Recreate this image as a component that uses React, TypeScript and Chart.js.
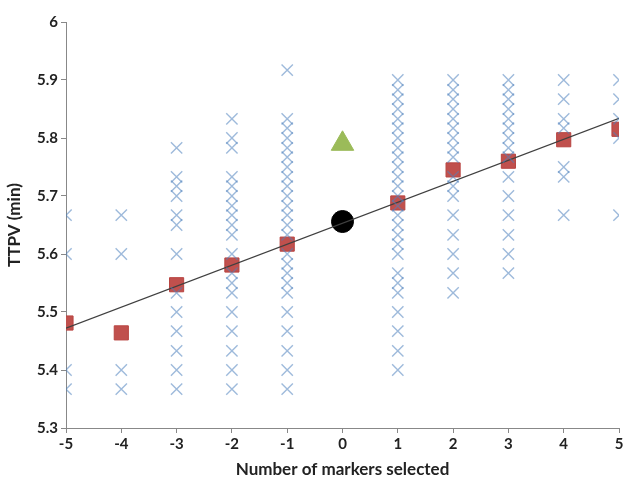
import React, { useEffect, useRef } from "react";
import { Chart, registerables } from "chart.js";
Chart.register(...registerables);

// Individual observations (TTPV, min) for each number of markers selected
const xGroups = [-5, -4, -3, -2, -1, 1, 2, 3, 4, 5];
const obsM5 = [5.667, 5.6, 5.4, 5.367];
const obsM4 = [5.667, 5.6, 5.4, 5.367];
const obsM3 = [5.783, 5.733, 5.717, 5.7, 5.667, 5.65, 5.6, 5.533, 5.5, 5.467, 5.433, 5.4, 5.367];
const obsM2 = [5.833, 5.8, 5.783, 5.733, 5.717, 5.7, 5.683, 5.667, 5.65, 5.633, 5.6, 5.567, 5.55, 5.533, 5.5, 5.467, 5.433, 5.4, 5.367];
const obsM1 = [5.917, 5.833, 5.817, 5.8, 5.783, 5.767, 5.75, 5.733, 5.717, 5.7, 5.683, 5.667, 5.65, 5.633, 5.6, 5.583, 5.567, 5.55, 5.533, 5.5, 5.467, 5.433, 5.4, 5.367];
const obsP1 = [5.9, 5.883, 5.867, 5.85, 5.833, 5.817, 5.8, 5.783, 5.767, 5.75, 5.733, 5.717, 5.7, 5.683, 5.667, 5.65, 5.633, 5.617, 5.6, 5.567, 5.55, 5.533, 5.5, 5.467, 5.433, 5.4];
const obsP2 = [5.9, 5.883, 5.867, 5.85, 5.833, 5.817, 5.8, 5.783, 5.767, 5.733, 5.717, 5.7, 5.667, 5.633, 5.6, 5.567, 5.533];
const obsP3 = [5.9, 5.883, 5.867, 5.85, 5.833, 5.817, 5.8, 5.783, 5.767, 5.733, 5.7, 5.667, 5.633, 5.6, 5.567];
const obsP4 = [5.9, 5.867, 5.833, 5.817, 5.75, 5.733, 5.667];
const obsP5 = [5.9, 5.867, 5.833, 5.8, 5.667];
const obsGroups = [obsM5, obsM4, obsM3, obsM2, obsM1, obsP1, obsP2, obsP3, obsP4, obsP5];

// Group means (red squares)
const meanX = [-5, -4, -3, -2, -1, 1, 2, 3, 4, 5];
const meanY = [5.481, 5.464, 5.547, 5.581, 5.617, 5.688, 5.745, 5.76, 5.797, 5.815];

// Linear trend line end points
const trendX = [-5, 5];
const trendY = [5.472, 5.834];

// Reference points
const circleX = [0];
const circleY = [5.656];
const triangleX = [0];
const triangleY = [5.79];

const xTicks = { min: -5, max: 5, step: 1 };
const yTicks = { min: 5.3, max: 6, step: 0.1 };

export default function App() {
  const ref = useRef<HTMLCanvasElement | null>(null);
  useEffect(() => {
    if (!ref.current) return;
    const obs: { x: number; y: number }[] = [];
    xGroups.forEach((gx, i) => obsGroups[i].forEach((v) => obs.push({ x: gx, y: v })));
    const font = "Lato, 'DejaVu Sans', sans-serif";
    const chart = new Chart(ref.current, {
      type: "scatter",
      data: {
        datasets: [
          {
            data: obs,
            pointStyle: "crossRot",
            pointRadius: 8,
            borderColor: "rgba(79,129,189,0.55)",
            backgroundColor: "rgba(79,129,189,0.55)",
            borderWidth: 1.4,
          },
          {
            type: "line",
            data: trendX.map((x, i) => ({ x, y: trendY[i] })),
            borderColor: "#404040",
            borderWidth: 1.2,
            pointRadius: 0,
            showLine: true,
          },
          {
            data: meanX.map((x, i) => ({ x, y: meanY[i] })),
            pointStyle: "rect",
            pointRadius: 10,
            backgroundColor: "#C0504D",
            borderColor: "#B84440",
            borderWidth: 1,
          },
          {
            data: circleX.map((x, i) => ({ x, y: circleY[i] })),
            pointStyle: "circle",
            pointRadius: 11,
            backgroundColor: "#000000",
            borderColor: "#000000",
          },
          {
            data: triangleX.map((x, i) => ({ x, y: triangleY[i] })),
            pointStyle: "triangle",
            pointRadius: 13,
            backgroundColor: "#9BBB59",
            borderColor: "#9BBB59",
          },
        ],
      } as any,
      options: {
        animation: false,
        responsive: false,
        layout: { padding: { top: 22, right: 0, left: 0, bottom: 0 } },
        plugins: { legend: { display: false }, tooltip: { enabled: false } },
        scales: {
          x: {
            type: "linear",
            min: xTicks.min,
            max: xTicks.max,
            ticks: { stepSize: xTicks.step, color: "#222", font: { family: font, size: 15, weight: "bold" }, padding: 2 },
            grid: { display: true, drawOnChartArea: false, drawTicks: true, tickLength: 5, color: "#888" },
            border: { color: "#888" },
            title: { display: true, text: "Number of markers selected", color: "#222", font: { family: font, size: 17, weight: "bold" }, padding: { top: 4 } },
            afterFit: (s: any) => { s.height = 56; },
          },
          y: {
            type: "linear",
            min: yTicks.min,
            max: yTicks.max,
            ticks: {
              stepSize: yTicks.step,
              color: "#222",
              font: { family: font, size: 15, weight: "bold" },
              padding: 3,
              callback: (v: any) => String(Number(Number(v).toFixed(1))),
            },
            grid: { display: true, drawOnChartArea: false, drawTicks: true, tickLength: 5, color: "#888" },
            border: { color: "#888" },
            title: { display: true, text: "TTPV (min)", color: "#222", font: { family: font, size: 17, weight: "bold" }, padding: { bottom: 2 } },
            afterFit: (s: any) => { s.width = 66; },
          },
        },
      } as any,
    });
    return () => chart.destroy();
  }, []);
  return (
    <div style={{ position: "absolute", left: 0, top: 0, width: 626, height: 484, background: "#fff", overflow: "hidden" }}>
      <canvas ref={ref} width={633} height={484} style={{ width: 633, height: 484 }} />
    </div>
  );
}
